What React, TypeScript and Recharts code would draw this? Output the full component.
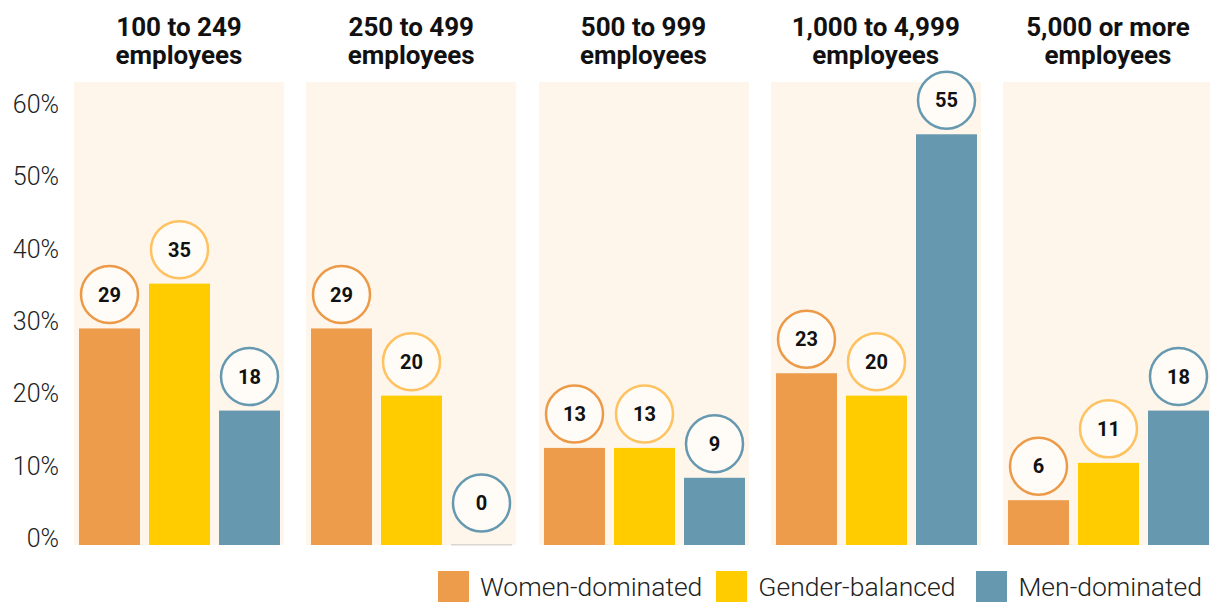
import React from "react";
import { BarChart, Bar, XAxis, YAxis, CartesianGrid, LabelList, Cell } from "recharts";

// data
const groups = ["100 to 249 employees", "250 to 499 employees", "500 to 999 employees", "1,000 to 4,999 employees", "5,000 or more employees"];
const groupTitles = [
  ["100 to 249", "employees"],
  ["250 to 499", "employees"],
  ["500 to 999", "employees"],
  ["1,000 to 4,999", "employees"],
  ["5,000 or more", "employees"],
];
const seriesNames = ["Women-dominated", "Gender-balanced", "Men-dominated"];
const womenDominated = [29, 29, 13, 23, 6];
const genderBalanced = [35, 20, 13, 20, 11];
const menDominated = [18, 0, 9, 55, 18];
const yTicks = [0, 10, 20, 30, 40, 50, 60];

const barColors = ["#ED9C4B", "#FFCC00", "#6699B0"];
const ringColors = ["#EC9A48", "#FEC260", "#6699B0"];
const PANEL_BG = "#FEF5EB";
const FONT = "Roboto, 'Noto Sans', sans-serif";

const PANEL_W = 210;
const PANEL_STEP = 232.25;
const PANEL_LEFT = 74;

function panelData(i: number) {
  const vals = [womenDominated[i], genderBalanced[i], menDominated[i]];
  return seriesNames.map((name, k) => ({ name, value: vals[k] }));
}

const Bubble = (props: any) => {
  const { x, y, width, value, index } = props;
  const cx = Number(x) + Number(width) / 2;
  // the empty bar's bubble sits a little higher in the original
  const cy = Number(y) - (value === 0 ? 42 : 34);
  return (
    <g>
      <circle cx={cx} cy={cy} r={28.5} fill="#FFFCF7" stroke={ringColors[index]} strokeWidth={2.5} />
      <text x={cx} y={cy} dy="0.36em" textAnchor="middle" fontFamily={FONT} fontWeight={700} fontSize={20} fill="#111">
        {value}
      </text>
    </g>
  );
};

const BarShape = (props: any) => {
  const { x, y, width, height, fill } = props;
  if (!height || height < 0.5) {
    return <rect x={x} y={y - 1} width={width} height={1.5} fill="#D9D6D2" />;
  }
  return <rect x={x} y={y} width={width} height={height} fill={fill} />;
};

function Panel({ i }: { i: number }) {
  const left = PANEL_LEFT + i * PANEL_STEP;
  return (
    <div style={{ position: "absolute", left, top: 0, width: PANEL_W }}>
      <div
        style={{
          position: "absolute",
          left: -30,
          width: PANEL_W + 60,
          top: 13,
          textAlign: "center",
          fontFamily: FONT,
          fontWeight: 700,
          fontSize: 26,
          lineHeight: "28px",
          color: "#111",
        }}
      >
        {groupTitles[i][0]}
        <br />
        {groupTitles[i][1]}
      </div>
      <div style={{ position: "absolute", top: 60, left: 0 }}>
        <BarChart
          width={PANEL_W}
          height={500}
          data={panelData(i)}
          margin={{ top: 22, right: 0, bottom: 15, left: 0 }}
          barSize={61}
          style={{ overflow: "visible" }}
        >
          <CartesianGrid fill={PANEL_BG} stroke="none" horizontal={false} vertical={false} />
          <XAxis dataKey="name" hide />
          <YAxis hide domain={[0, 62]} />
          <Bar dataKey="value" isAnimationActive={false} shape={BarShape}>
            {seriesNames.map((n, k) => (
              <Cell key={n} fill={barColors[k]} />
            ))}
            <LabelList dataKey="value" content={Bubble} />
          </Bar>
        </BarChart>
      </div>
    </div>
  );
}

const legendGaps = [14, 21, 0];

export default function App() {
  return (
    <div style={{ position: "absolute", left: 0, top: 0, width: 1210, height: 602, background: "#fff", overflow: "hidden" }}>
      {/* y axis */}
      <div style={{ position: "absolute", left: 0, top: 90 }}>
        <BarChart width={74} height={470} data={[{ name: "a", value: 0 }]} margin={{ top: 14, right: 0, bottom: 22, left: 0 }}>
          <XAxis dataKey="name" hide />
          <YAxis
            width={67}
            domain={[0, 60]}
            ticks={yTicks}
            interval={0}
            tickFormatter={(v) => `${v}%`}
            axisLine={false}
            tickLine={false}
            tick={{ fontFamily: FONT, fontWeight: 300, fontSize: 25, fill: "#222" }}
          />
          <Bar dataKey="value" isAnimationActive={false} fill="none" />
        </BarChart>
      </div>
      {groups.map((g, i) => (
        <Panel key={g} i={i} />
      ))}
      {/* legend */}
      <div style={{ position: "absolute", left: 438, top: 571, display: "flex", alignItems: "center", fontFamily: FONT, fontWeight: 300, fontSize: 26.5, color: "#222" }}>
        {seriesNames.map((n, k) => (
          <div key={n} style={{ display: "flex", alignItems: "center", marginRight: legendGaps[k] }}>
            <div style={{ width: 31, height: 31, background: barColors[k], marginRight: 11 }} />
            <span style={{ lineHeight: "31px" }}>{n}</span>
          </div>
        ))}
      </div>
    </div>
  );
}
